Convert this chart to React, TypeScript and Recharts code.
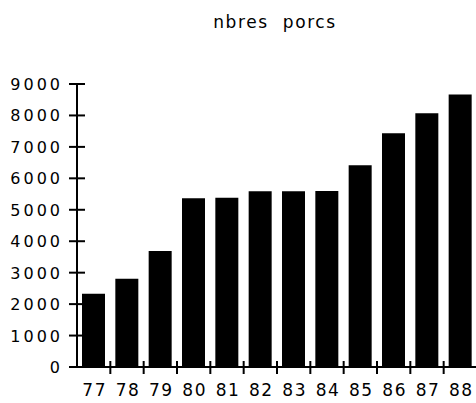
import React from "react"
import { BarChart, Bar, XAxis, YAxis } from "recharts"

const years = ["77", "78", "79", "80", "81", "82", "83", "84", "85", "86", "87", "88"]
const pigs = [2330, 2810, 3690, 5370, 5385, 5590, 5590, 5600, 6420, 7430, 8070, 8670]
const yTicks = [0, 1000, 2000, 3000, 4000, 5000, 6000, 7000, 8000, 9000]

const data = years.map((year, i) => ({ year, pigs: pigs[i] }))

const FONT = "'DejaVu Sans', Arial, Helvetica, sans-serif"
const BAND = 400 / years.length

const YTick = (props: any) => {
  const { x, y, payload } = props
  return (
    <g>
      <line x1={x - 8} x2={x + 8} y1={y} y2={y} stroke="#000" strokeWidth={2} />
      <text
        x={x - 14}
        y={y}
        dy={6}
        textAnchor="end"
        fill="#000"
        fontSize={16}
        fontFamily={FONT}
        letterSpacing={3}
      >
        {payload.value}
      </text>
    </g>
  )
}

const XTick = (props: any) => {
  const { x, y, payload } = props
  const edge = x + BAND / 2
  return (
    <g>
      <line x1={edge} x2={edge} y1={y - 6} y2={y + 7} stroke="#000" strokeWidth={2} />
      <text
        x={x + 1}
        y={y + 29}
        textAnchor="middle"
        fill="#000"
        fontSize={17}
        fontFamily={FONT}
        letterSpacing={1.5}
      >
        {payload.value}
      </text>
    </g>
  )
}

export default function App() {
  return (
    <div style={{ position: "absolute", left: 0, top: 0, width: 476, height: 403, overflow: "hidden", background: "#fff" }}>
      <div
        style={{
          position: "absolute",
          left: 0,
          top: 14,
          width: 550,
          textAlign: "center",
          fontFamily: FONT,
          fontSize: 17,
          lineHeight: "17px",
          letterSpacing: 1.6,
          color: "#000",
        }}
      >
        nbres&nbsp; porcs
      </div>
      <BarChart
        width={480}
        height={403}
        data={data}
        margin={{ top: 84, right: 3, bottom: 6, left: 0 }}
      >
        <XAxis
          dataKey="year"
          interval={0}
          height={30}
          tickSize={0}
          tickMargin={0}
          axisLine={{ stroke: "#000", strokeWidth: 2 }}
          tick={<XTick />}
        />
        <YAxis
          width={77}
          domain={[0, 9000]}
          ticks={yTicks}
          interval={0}
          tickSize={0}
          tickMargin={0}
          axisLine={{ stroke: "#000", strokeWidth: 2 }}
          tick={<YTick />}
        />
        <Bar dataKey="pigs" fill="#000" barSize={23} isAnimationActive={false} />
      </BarChart>
    </div>
  )
}
